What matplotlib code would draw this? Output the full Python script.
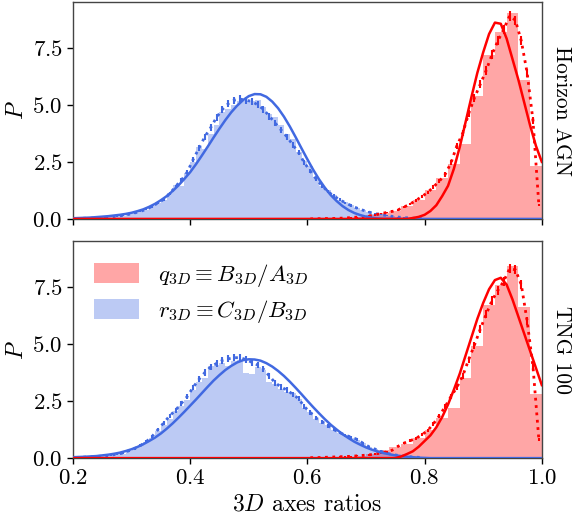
import numpy as np
import matplotlib
matplotlib.use("Agg")
import matplotlib.pyplot as plt

plt.rcParams['font.family'] = 'serif'
plt.rcParams['font.serif'] = ['cmr10', 'DejaVu Serif']
plt.rcParams['mathtext.fontset'] = 'cm'
plt.rcParams['axes.formatter.use_mathtext'] = True
plt.rcParams['axes.unicode_minus'] = False

# ---------------- data ----------------
panel_names = ["Horizon AGN", "TNG 100"]
legend_labels = [r"$q_{3D} \equiv B_{3D}/A_{3D}$", r"$r_{3D} \equiv C_{3D}/B_{3D}$"]
xlabel = r"$3D$ axes ratios"
ylabel = r"$P$"
xticks = [0.2, 0.4, 0.6, 0.8, 1.0]
yticks = [0.0, 2.5, 5.0, 7.5]

# blue (r_3D) histogram, bins of 0.01 from 0.20 to 0.80
r_bin_edges = np.round(np.arange(0.20, 0.8001, 0.01), 3)
r_hist_hagn = [0.02, 0.03, 0.03, 0.04, 0.05, 0.07, 0.09, 0.12, 0.14, 0.20,
               0.25, 0.34, 0.40, 0.58, 0.68, 0.85, 1.15, 1.50, 1.45, 2.00,
               2.50, 3.15, 3.05, 3.70, 4.10, 4.70, 4.80, 5.00, 5.15, 5.15,
               5.15, 5.20, 4.90, 4.60, 4.45, 4.10, 3.70, 3.50, 2.95, 2.55,
               2.30, 1.85, 1.45, 1.25, 1.05, 0.85, 0.72, 0.60, 0.47, 0.38,
               0.32, 0.23, 0.20, 0.14, 0.11, 0.08, 0.06, 0.04, 0.03, 0.02]
r_hist_tng = [0.03, 0.04, 0.05, 0.06, 0.08, 0.10, 0.13, 0.17, 0.20, 0.30,
              0.40, 0.55, 0.70, 0.90, 1.20, 1.45, 1.70, 2.05, 2.30, 2.55,
              3.00, 3.35, 3.50, 4.05, 4.10, 4.15, 4.05, 4.25, 4.30, 3.75,
              3.70, 4.00, 3.85, 3.35, 3.25, 3.05, 2.90, 2.85, 2.60, 2.20,
              2.00, 1.70, 1.55, 1.45, 1.25, 1.10, 1.00, 0.90, 0.80, 0.65,
              0.50, 0.40, 0.30, 0.22, 0.16, 0.12, 0.09, 0.06, 0.04, 0.03]

# blue dotted (finer estimate) at bin centres
r_dot_hagn = [0.02, 0.03, 0.03, 0.04, 0.05, 0.07, 0.09, 0.12, 0.15, 0.20,
              0.26, 0.33, 0.42, 0.55, 0.70, 0.86, 1.10, 1.42, 1.70, 2.05,
              2.60, 3.10, 3.60, 4.00, 4.45, 4.80, 5.05, 5.20, 5.25, 5.20,
              5.15, 5.00, 4.80, 4.50, 4.20, 3.90, 3.60, 3.25, 2.90, 2.45,
              2.10, 1.75, 1.45, 1.20, 1.00, 0.85, 0.70, 0.58, 0.47, 0.38,
              0.30, 0.24, 0.19, 0.15, 0.11, 0.08, 0.06, 0.04, 0.03, 0.02]
r_dot_tng = [0.03, 0.04, 0.05, 0.06, 0.08, 0.10, 0.13, 0.17, 0.22, 0.32,
             0.42, 0.55, 0.72, 0.95, 1.25, 1.55, 1.85, 2.10, 2.40, 2.70,
             3.10, 3.45, 3.75, 4.00, 4.15, 4.28, 4.35, 4.40, 4.40, 4.32,
             4.20, 4.08, 3.90, 3.60, 3.30, 3.12, 2.98, 2.80, 2.60, 2.25,
             2.00, 1.75, 1.60, 1.42, 1.25, 1.12, 1.00, 0.92, 0.82, 0.65,
             0.50, 0.40, 0.30, 0.22, 0.16, 0.12, 0.09, 0.06, 0.04, 0.03]

# red (q_3D) histogram, bins of 0.02 from 0.60 to 1.00
q_bin_edges = np.round(np.arange(0.60, 1.0001, 0.02), 3)
q_hist_hagn = [0.01, 0.01, 0.025, 0.05, 0.09, 0.15, 0.25, 0.35, 0.55, 0.85,
               1.25, 1.80, 2.40, 3.30, 5.40, 7.20, 8.20, 9.00, 6.10, 2.30]
q_hist_tng = [0.01, 0.02, 0.03, 0.05, 0.10, 0.20, 0.35, 0.50, 0.60, 0.86,
              1.23, 1.74, 2.18, 3.50, 4.90, 6.70, 7.60, 8.40, 6.60, 2.80]

# red dotted (finer, 0.01) at centres from 0.605 to 0.995
q_dot_x = np.round(np.arange(0.605, 1.0, 0.01), 3)
q_dot_hagn = [0.00, 0.01, 0.01, 0.02, 0.02, 0.03, 0.04, 0.06, 0.08, 0.10,
              0.13, 0.17, 0.23, 0.28, 0.33, 0.40, 0.52, 0.65, 0.80, 0.98,
              1.15, 1.40, 1.65, 1.95, 2.45, 3.20, 3.75, 4.60, 5.30, 5.90,
              6.50, 7.20, 7.80, 8.30, 8.90, 8.70, 7.80, 6.40, 4.30, 0.60]
q_dot_tng = [0.02, 0.02, 0.03, 0.04, 0.05, 0.06, 0.07, 0.08, 0.10, 0.12,
             0.14, 0.18, 0.22, 0.27, 0.35, 0.52, 0.66, 0.76, 0.86, 1.02,
             1.20, 1.50, 1.85, 2.25, 2.70, 3.10, 3.60, 4.30, 4.95, 5.65,
             6.30, 6.90, 7.35, 7.75, 8.30, 8.25, 7.60, 6.00, 4.00, 0.80]

# fitted curves, sampled every 0.01 from 0.20 to 1.00
fit_x = np.round(np.arange(0.20, 1.0001, 0.01), 3)
r_fit_hagn = [0.03, 0.04, 0.05, 0.06, 0.08, 0.10, 0.12, 0.15, 0.18, 0.22,
              0.27, 0.34, 0.42, 0.53, 0.66, 0.82, 1.00, 1.22, 1.47, 1.75,
              2.05, 2.40, 2.78, 3.17, 3.57, 3.96, 4.33, 4.67, 4.96, 5.20,
              5.38, 5.47, 5.46, 5.35, 5.14, 4.85, 4.48, 4.05, 3.58, 3.09,
              2.61, 2.15, 1.73, 1.36, 1.04, 0.78, 0.56, 0.39, 0.26, 0.17,
              0.10, 0.05, 0.02] + [0.0] * 28
r_fit_tng = [0.04, 0.05, 0.06, 0.075, 0.09, 0.12, 0.15, 0.19, 0.24, 0.31,
             0.39, 0.49, 0.61, 0.75, 0.90, 1.08, 1.29, 1.52, 1.77, 2.03,
             2.30, 2.57, 2.85, 3.13, 3.40, 3.64, 3.86, 4.04, 4.19, 4.29,
             4.33, 4.32, 4.27, 4.16, 4.01, 3.82, 3.60, 3.35, 3.08, 2.80,
             2.51, 2.23, 1.96, 1.70, 1.46, 1.25, 1.05, 0.88, 0.72, 0.59,
             0.47, 0.37, 0.29, 0.22, 0.17, 0.12, 0.09, 0.06, 0.04, 0.02,
             0.01] + [0.0] * 20
q_fit_hagn = [0.0] * 57 + [0.0, 0.04, 0.09, 0.18, 0.35, 0.60, 1.00, 1.45, 2.20,
                           3.15, 4.25, 5.35, 6.40, 7.30, 8.10, 8.60, 8.55, 7.90,
                           7.00, 6.10, 5.10, 4.10, 3.20, 2.50]
q_fit_tng = [0.0] * 56 + [0.07, 0.18, 0.30, 0.50, 0.75, 1.00, 1.35, 1.80,
                          2.35, 3.00, 3.70, 4.50, 5.30, 6.10, 6.80, 7.40, 7.80,
                          7.90, 7.60, 6.95, 6.20, 5.45, 4.70, 3.95, 3.20]

panels = [
    dict(r_hist=r_hist_hagn, r_dot=r_dot_hagn, q_hist=q_hist_hagn, q_dot=q_dot_hagn,
         r_fit=r_fit_hagn, q_fit=q_fit_hagn),
    dict(r_hist=r_hist_tng, r_dot=r_dot_tng, q_hist=q_hist_tng, q_dot=q_dot_tng,
         r_fit=r_fit_tng, q_fit=q_fit_tng),
]

BLUE = "royalblue"
RED = "red"

fig = plt.figure(figsize=(5.77, 5.20), dpi=100)
ax_top = fig.add_axes([0.1265, 0.579, 0.8125, 0.417])
ax_bot = fig.add_axes([0.1265, 0.119, 0.8125, 0.417], sharex=ax_top)
axes = [ax_top, ax_bot]

r_centres = 0.5 * (r_bin_edges[:-1] + r_bin_edges[1:])

for ax, p, name in zip(axes, panels, panel_names):
    # filled histograms
    ax.hist(q_bin_edges[:-1], bins=q_bin_edges, weights=p["q_hist"],
            color=RED, alpha=0.35, linewidth=0, label=legend_labels[0], zorder=1)
    ax.hist(r_bin_edges[:-1], bins=r_bin_edges, weights=p["r_hist"],
            color=BLUE, alpha=0.35, linewidth=0, label=legend_labels[1], zorder=1)
    # dotted lines with error bars
    r_dot = np.array(p["r_dot"])
    q_dot = np.array(p["q_dot"])
    ax.errorbar(r_centres, r_dot, yerr=0.07 * np.sqrt(r_dot), fmt=":",
                color=BLUE, lw=2, elinewidth=1.5, capsize=0, zorder=3)
    ax.errorbar(q_dot_x, q_dot, yerr=0.07 * np.sqrt(q_dot), fmt=":",
                color=RED, lw=2, elinewidth=1.5, capsize=0, zorder=3)
    # fitted curves
    ax.plot(fit_x, p["r_fit"], color=BLUE, lw=1.8, zorder=4)
    ax.plot(fit_x, p["q_fit"], color=RED, lw=1.8, zorder=5)

    ax.set_xlim(0.2, 1.0)
    ax.set_ylim(0, 9.5)
    ax.set_yticks(yticks)
    ax.set_ylabel(ylabel, fontsize=17, labelpad=3)
    ax.tick_params(labelsize=16.5, direction="out", length=4, width=1)
    for s in ax.spines.values():
        s.set_color("#444444")
        s.set_linewidth(1.0)
    ax.text(1.022, 0.5, name, transform=ax.transAxes, rotation=-90,
            va="center", ha="left", fontsize=15.5)

ax_top.tick_params(labelbottom=False)
ax_bot.set_xticks(xticks)
ax_bot.set_xlabel(xlabel, fontsize=17, labelpad=4)

handles, labels = ax_bot.get_legend_handles_labels()
ax_bot.legend(handles, labels, loc="upper left", fontsize=16.5, frameon=False,
              handlelength=2.0, handleheight=1.0, borderaxespad=0.5,
              labelspacing=0.4, handletextpad=0.8)

fig.savefig("out.png", dpi=100)
